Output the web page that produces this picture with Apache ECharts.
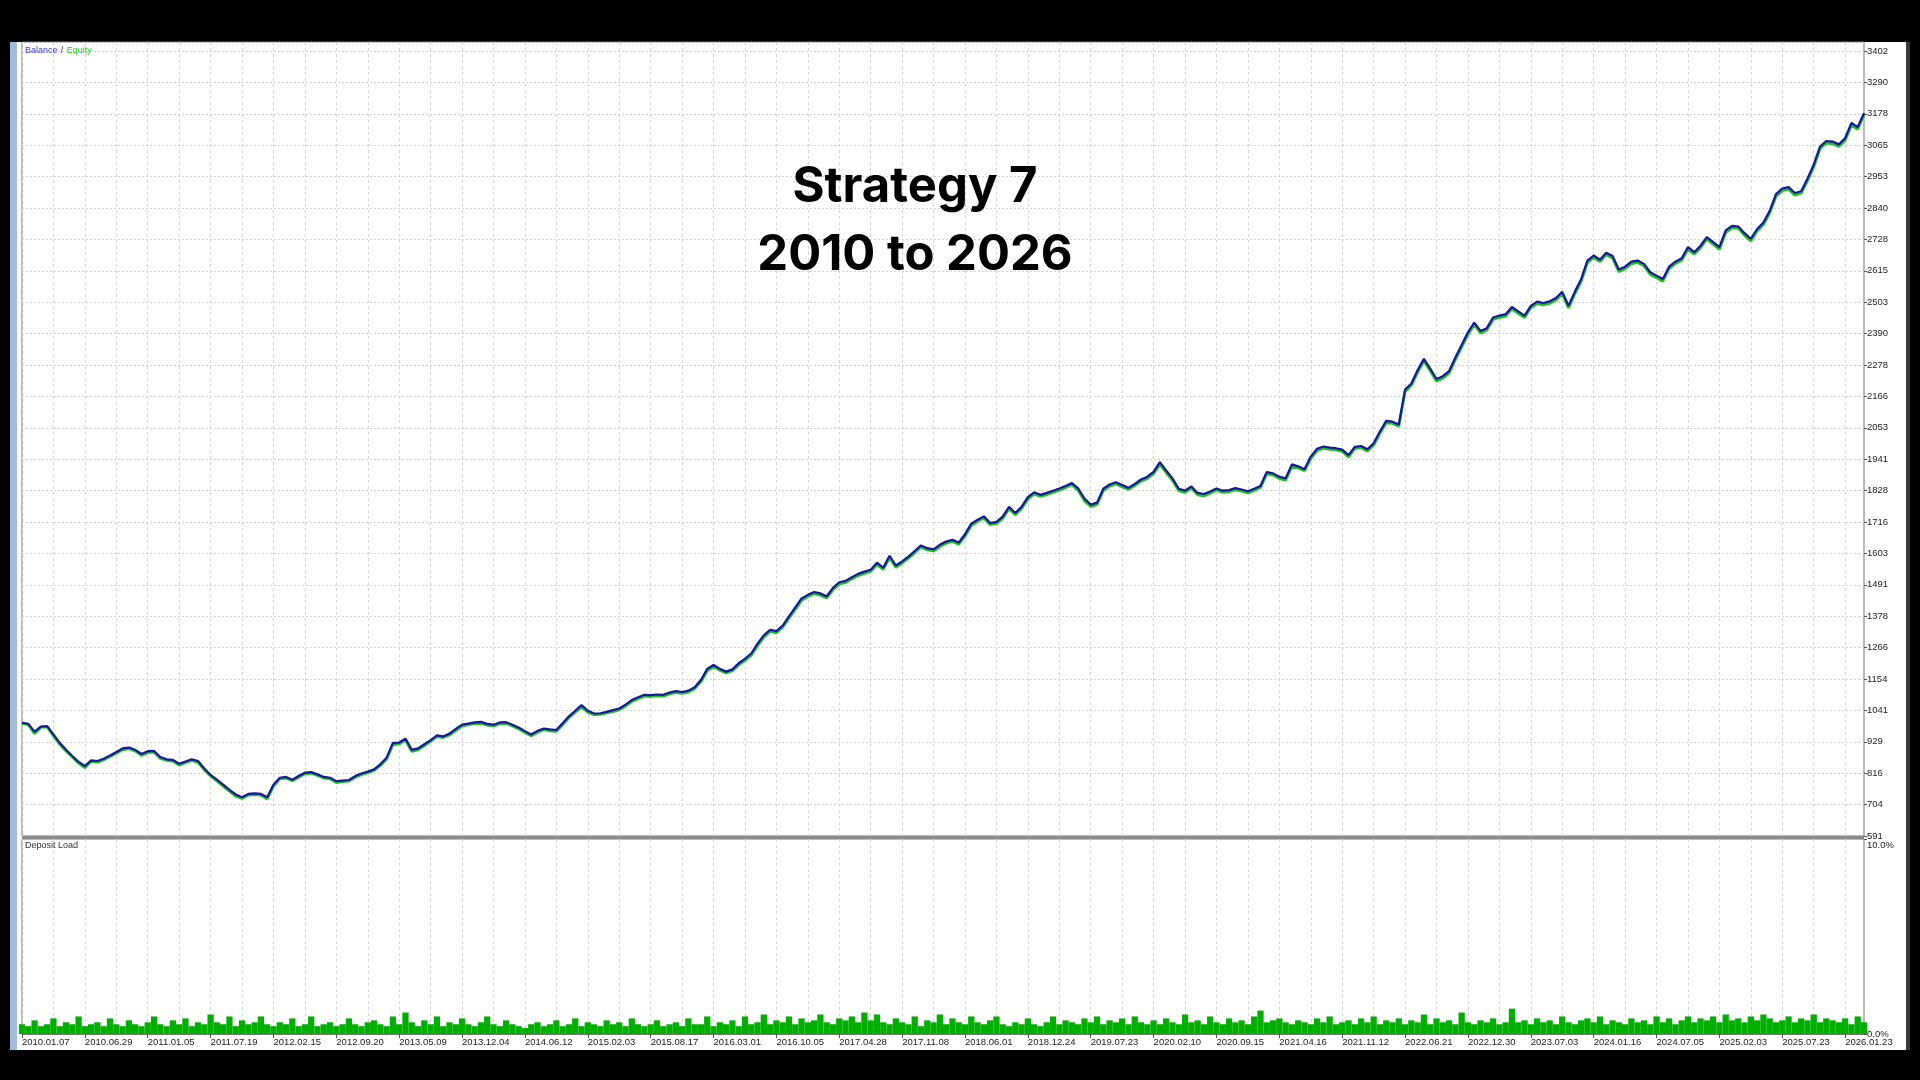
<!DOCTYPE html>
<html>
<head>
<meta charset="utf-8">
<script src="https://cdn.jsdelivr.net/npm/echarts@6/dist/echarts.min.js"></script>
<style>
html,body{margin:0;padding:0;background:#000;}
#chart{width:1920px;height:1080px;}
</style>
</head>
<body>
<div id="chart"></div>
<script>
// Date tick labels (every 10th trade point)
const dateLabels = ['2010.01.07','2010.06.29','2011.01.05','2011.07.19','2012.02.15','2012.09.20','2013.05.09','2013.12.04','2014.06.12','2015.02.03','2015.08.17','2016.03.01','2016.10.05','2017.04.28','2017.11.08','2018.06.01','2018.12.24','2019.07.23','2020.02.10','2020.09.15','2021.04.16','2021.11.12','2022.06.21','2022.12.30','2023.07.03','2024.01.16','2024.07.05','2025.02.03','2025.07.23','2026.01.23'];

// Balance (blue)
const balance = [997,993,965,983,985,955,925,900,878,857,
842,862,860,868,880,892,905,908,900,885,
895,896,874,866,864,850,858,866,860,833,
810,793,775,757,740,730,742,744,742,730,
775,800,803,793,806,818,820,812,803,800,
788,790,792,806,815,822,830,848,872,925,
926,940,900,905,920,935,952,948,958,975,
990,994,998,1000,993,990,998,999,990,980,
967,955,968,976,973,971,995,1020,1040,1060,
1040,1030,1031,1036,1042,1048,1062,1078,1088,1097,
1096,1098,1097,1105,1110,1107,1112,1124,1150,1190,
1204,1190,1180,1188,1210,1226,1245,1280,1310,1330,
1325,1345,1378,1410,1442,1455,1465,1460,1450,1480,
1500,1505,1518,1530,1538,1545,1570,1552,1595,1560,
1575,1592,1612,1632,1622,1618,1634,1646,1652,1642,
1672,1710,1724,1736,1712,1716,1735,1770,1748,1770,
1805,1822,1813,1820,1828,1836,1845,1855,1836,1800,
1778,1785,1835,1850,1858,1848,1838,1852,1868,1878,
1895,1930,1900,1872,1835,1828,1843,1820,1816,1825,
1836,1828,1830,1837,1832,1826,1835,1845,1895,1890,
1878,1872,1922,1915,1905,1950,1978,1986,1982,1980,
1975,1955,1985,1988,1976,1998,2040,2078,2075,2065,
2190,2212,2260,2300,2265,2228,2238,2256,2305,2350,
2395,2430,2400,2410,2448,2455,2460,2486,2470,2455,
2490,2505,2500,2506,2518,2540,2490,2540,2585,2652,
2670,2655,2680,2668,2620,2630,2648,2652,2640,2610,
2598,2586,2630,2648,2660,2700,2682,2705,2736,2718,
2700,2760,2776,2774,2750,2730,2765,2788,2830,2890,
2910,2915,2894,2900,2945,2995,3060,3080,3078,3068,
3090,3145,3130,3180];

// Equity (green)
const equity = [995,990,958,980,982,950,920,896,874,852,
836,858,856,864,876,888,900,904,896,880,
890,892,869,862,860,845,854,862,855,828,
806,789,770,752,734,726,738,740,738,724,
770,796,799,789,802,814,816,808,799,796,
783,786,788,802,811,818,826,844,867,918,
921,935,894,900,915,930,947,944,953,970,
985,990,994,995,988,986,993,995,985,975,
962,950,963,972,968,966,990,1015,1035,1053,
1035,1026,1027,1032,1037,1043,1057,1073,1083,1092,
1091,1093,1092,1100,1105,1102,1107,1119,1144,1183,
1198,1185,1175,1183,1204,1220,1239,1273,1303,1324,
1319,1339,1371,1403,1435,1449,1459,1454,1444,1473,
1494,1499,1512,1524,1532,1539,1563,1546,1588,1553,
1569,1586,1606,1626,1616,1612,1628,1640,1646,1636,
1665,1703,1718,1730,1706,1710,1729,1763,1742,1764,
1798,1816,1807,1814,1822,1830,1839,1849,1829,1792,
1771,1779,1828,1844,1852,1842,1832,1846,1862,1872,
1889,1922,1893,1865,1828,1822,1837,1813,1809,1819,
1830,1822,1824,1831,1826,1820,1829,1839,1888,1884,
1871,1866,1915,1909,1899,1943,1971,1980,1976,1974,
1969,1948,1979,1982,1970,1991,2033,2071,2069,2059,
2182,2205,2252,2292,2257,2220,2231,2249,2297,2342,
2387,2422,2392,2403,2441,2448,2453,2479,2463,2448,
2483,2498,2493,2499,2511,2533,2482,2533,2577,2644,
2663,2648,2673,2661,2612,2623,2641,2645,2633,2602,
2590,2578,2623,2641,2653,2692,2675,2698,2729,2711,
2692,2752,2769,2767,2742,2722,2758,2781,2822,2882,
2902,2908,2886,2893,2937,2987,3052,3073,3071,3060,
3083,3137,3122,3174];

// Deposit load (%)
const depositLoad = [0.5,0.4,0.7,0.4,0.5,0.8,0.4,0.6,0.5,0.9,
0.4,0.5,0.6,0.4,0.8,0.5,0.4,0.7,0.5,0.4,
0.6,0.9,0.5,0.4,0.7,0.5,0.8,0.4,0.6,0.5,
1.0,0.6,0.5,0.9,0.4,0.7,0.5,0.6,0.9,0.5,
0.4,0.6,0.5,0.8,0.4,0.5,0.9,0.4,0.5,0.6,
0.4,0.5,0.8,0.5,0.4,0.6,0.7,0.5,0.4,0.9,
0.5,1.1,0.6,0.4,0.7,0.5,0.9,0.4,0.6,0.5,
0.8,0.5,0.4,0.6,0.9,0.5,0.4,0.7,0.5,0.4,
0.3,0.5,0.6,0.4,0.5,0.7,0.4,0.5,0.8,0.4,
0.6,0.5,0.4,0.7,0.5,0.6,0.4,0.8,0.5,0.4,
0.5,0.7,0.4,0.5,0.6,0.4,0.8,0.5,0.5,0.9,
0.4,0.6,0.5,0.7,0.4,0.9,0.5,0.6,1.0,0.5,
0.7,0.6,0.9,0.5,0.8,0.6,0.7,1.0,0.6,0.5,
0.8,0.7,0.9,0.6,1.1,0.7,1.0,0.6,0.5,0.8,
0.6,0.5,0.9,0.4,0.7,0.6,1.0,0.5,0.8,0.6,
0.5,0.9,0.6,0.5,0.7,0.9,0.5,0.4,0.6,0.5,
0.8,0.5,0.4,0.6,0.9,0.5,0.7,0.6,0.5,0.8,
0.6,0.9,0.5,0.7,0.6,0.8,0.5,0.9,0.6,0.5,
0.7,0.5,0.8,0.6,0.5,1.0,0.6,0.7,0.5,0.9,
0.6,0.5,0.8,0.6,0.7,0.5,0.9,1.2,0.6,0.7,
0.8,0.6,0.5,0.7,0.6,0.5,0.8,0.6,0.9,0.5,
0.6,0.7,0.5,0.8,0.6,0.9,0.5,0.7,0.6,0.8,
0.5,0.7,0.6,1.0,0.5,0.8,0.6,0.7,0.5,1.1,
0.6,0.5,0.7,0.6,0.8,0.5,0.6,1.3,0.6,0.7,
0.5,0.8,0.6,0.7,0.5,0.9,0.6,0.5,0.7,0.8,
0.6,0.9,0.5,0.7,0.6,0.5,0.8,0.6,0.7,0.5,
0.9,0.6,0.8,0.5,0.7,0.9,0.6,0.8,0.7,0.9,
0.6,1.0,0.7,0.8,0.6,0.9,0.7,1.0,0.8,0.6,
0.7,0.9,0.6,0.8,0.7,1.0,0.6,0.8,0.7,0.6,
0.8,0.5,0.9,0.6];

// Balance axis settings (ticks counted from min)
const balMin = 591.4, balStep = 112.44, balMax = 3434.6;

const cats = balance.map((_, i) => String(i));
const labelFont = 'Liberation Sans, Arial, sans-serif';

const chart = echarts.init(document.getElementById('chart'), null, {renderer: 'canvas'});
chart.setOption({
  backgroundColor: '#000',
  animation: false,
  title: {
    text: 'Strategy 7\n2010 to 2026',
    left: 910, top: 148, textAlign: 'center',
    textStyle: {fontFamily: 'Inter, Roboto, sans-serif', fontWeight: 700, fontSize: 49, lineHeight: 68, color: '#000'}
  },
  graphic: {elements: [
    {type: 'rect', z: -10, shape: {x: 10, y: 42, width: 7, height: 1008}, style: {fill: '#a3bcdb'}},
    {type: 'rect', z: -10, shape: {x: 17, y: 42, width: 1889, height: 1008}, style: {fill: '#ffffff'}},
    {type: 'rect', z: -10, shape: {x: 1906, y: 42, width: 4, height: 1008}, style: {fill: '#3a3a3a'}},
    {type: 'rect', z: 20, shape: {x: 22, y: 836, width: 1842, height: 3}, style: {fill: '#8a8a8a'}},
    {type: 'text', z: 20, left: 25, top: 45, style: {
      text: '{b|Balance} {s|/} {e|Equity}',
      rich: {
        b: {fill: '#3a3ad0', fontSize: 9, fontFamily: labelFont},
        s: {fill: '#333', fontSize: 9, fontFamily: labelFont},
        e: {fill: '#2cc62c', fontSize: 9, fontFamily: labelFont}
      }
    }},
    {type: 'text', z: 20, left: 25, top: 841, style: {text: 'Deposit Load', fill: '#333', fontSize: 9, fontFamily: labelFont}}
  ]},
  grid: [
    {left: 22, right: 56, top: 42, height: 794, show: true, borderColor: '#777', borderWidth: 1, backgroundColor: 'transparent'},
    {left: 22, right: 56, top: 839, height: 195, show: true, borderColor: '#777', borderWidth: 1, backgroundColor: 'transparent'}
  ],
  xAxis: [
    {type: 'category', gridIndex: 0, data: cats, boundaryGap: false,
     axisLine: {show: false}, axisTick: {show: false}, axisLabel: {show: false},
     splitLine: {show: true, interval: 4, lineStyle: {color: '#d6d6d6', type: [3, 3], width: 1}}},
    {type: 'category', gridIndex: 1, data: cats, boundaryGap: false,
     axisLine: {show: true, lineStyle: {color: '#777'}},
     axisTick: {show: true, interval: 9, length: 4, lineStyle: {color: '#555'}},
     axisLabel: {show: true, interval: 9, align: 'left', margin: 3, fontSize: 9.5, color: '#222', fontFamily: labelFont,
       formatter: (v, idx) => (idx % 10 === 0 ? (dateLabels[idx / 10] || '') : '')},
     splitLine: {show: true, interval: 4, lineStyle: {color: '#d6d6d6', type: [3, 3], width: 1}}}
  ],
  yAxis: [
    {type: 'value', gridIndex: 0, position: 'right', min: balMin, max: balMax, interval: balStep,
     axisLine: {show: false},
     axisTick: {show: true, length: 3, lineStyle: {color: '#555'}},
     axisLabel: {show: true, showMaxLabel: false, margin: 3, fontSize: 9.5, color: '#222', fontFamily: labelFont,
       formatter: v => String(Math.round(v))},
     splitLine: {show: true, lineStyle: {color: '#d6d6d6', type: [2, 2], width: 1}}},
    {type: 'value', gridIndex: 1, position: 'right', min: 0, max: 10, interval: 10,
     axisLine: {show: false},
     axisTick: {show: true, length: 3, lineStyle: {color: '#555'}},
     axisLabel: {show: true, margin: 3, fontSize: 9.5, color: '#222', fontFamily: labelFont, lineHeight: 12,
       formatter: v => (v >= 10 ? '\n' + v.toFixed(1) + '%' : v.toFixed(1) + '%')},
     splitLine: {show: false}}
  ],
  series: [
    {name: 'Equity', type: 'line', xAxisIndex: 0, yAxisIndex: 0, data: equity, showSymbol: false, z: 2,
     lineStyle: {color: '#20c020', width: 2.8}, itemStyle: {color: '#20c020'}},
    {name: 'Balance', type: 'line', xAxisIndex: 0, yAxisIndex: 0, data: balance, showSymbol: false, z: 3,
     lineStyle: {color: '#14189e', width: 2.2}, itemStyle: {color: '#14189e'}},
    {name: 'Deposit Load', type: 'bar', xAxisIndex: 1, yAxisIndex: 1, data: depositLoad, barCategoryGap: '0%',
     itemStyle: {color: '#00b000'}}
  ]
});
</script>
</body>
</html>
